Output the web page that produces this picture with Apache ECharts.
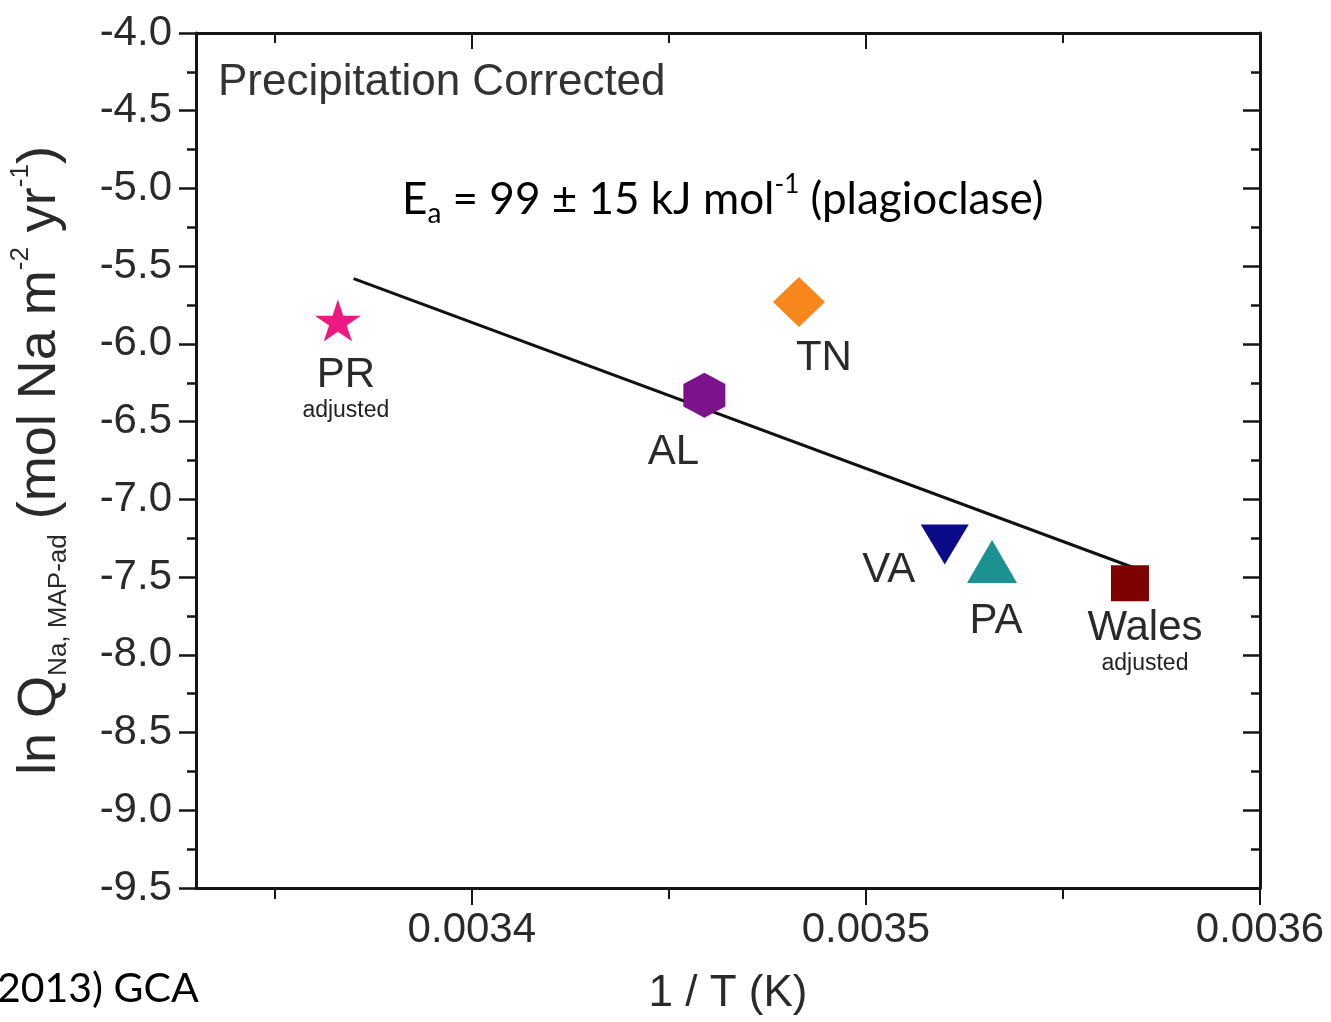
<!DOCTYPE html>
<html>
<head>
<meta charset="utf-8">
<script src="https://cdn.jsdelivr.net/npm/echarts@6/dist/echarts.min.js"></script>
<style>
  html, body { margin: 0; padding: 0; background: #fff; }
  #chart { width: 1331px; height: 1022px; }
</style>
</head>
<body>
<div id="chart"></div>
<script>
// sites
var sites = ['PR', 'AL', 'TN', 'VA', 'PA', 'Wales']
var invT = [0.003366, 0.003459, 0.003483, 0.003520, 0.003532, 0.003567]
var lnQ = [-5.85, -6.33, -5.73, -7.29, -7.40, -7.54]
var notes = ['adjusted', '', '', '', '', 'adjusted']

// fitted line end points
var fitX = [0.00337, 0.003568]
var fitY = [-5.58, -7.44]

var xMajor = [0.0034, 0.0035, 0.0036]
var xMinor = [0.00335, 0.00345, 0.00355]

// marker look per site
var look = {
    PR:    { sym: 'path://M0,-1 L0.2245,-0.309 L0.951,-0.309 L0.363,0.118 L0.588,0.809 L0,0.382 L-0.588,0.809 L-0.363,0.118 L-0.951,-0.309 L-0.2245,-0.309 Z', size: [46, 42], color: '#ec1a80', rot: 0, off: [8, 68] },
    AL:    { sym: 'path://M0,-1 L0.866,-0.5 L0.866,0.5 L0,1 L-0.866,0.5 L-0.866,-0.5 Z', size: [42, 45], color: '#7c128c', rot: 0, off: [-31, 57] },
    TN:    { sym: 'diamond', size: [52, 50], color: '#f7871c', rot: 0, off: [25, 56] },
    VA:    { sym: 'triangle', size: [48, 40], color: '#0b0b8a', rot: 180, off: [-56, 26] },
    PA:    { sym: 'triangle', size: [50, 43], color: '#1b9191', rot: 0, off: [4, 60] },
    Wales: { sym: 'rect', size: [38, 36], color: '#7d0202', rot: 0, off: [15, 58] }
}

var txt = '#2a2a2a'
var axisCol = '#151515'
var XMIN = 0.00333, XMAX = 0.0036

var series = sites.map(function (name, i) {
    var lk = look[name]
    return {
        name: name,
        type: 'scatter',
        data: [[invT[i], lnQ[i]]],
        symbol: lk.sym,
        symbolSize: lk.size,
        symbolRotate: lk.rot,
        itemStyle: { color: lk.color, opacity: 1 },
        z: 3,
        label: {
            show: true,
            position: 'inside',
            offset: lk.off,
            formatter: notes[i] ? '{n|' + name + '}\n{s|' + notes[i] + '}' : '{n|' + name + '}',
            rich: {
                n: { fontFamily: 'Liberation Sans', fontSize: 42, color: txt, lineHeight: 44, align: 'center' },
                s: { fontFamily: 'Liberation Sans', fontSize: 23, color: '#222', lineHeight: 26, align: 'center' }
            }
        }
    }
})

series.unshift({
    type: 'line',
    data: fitX.map(function (x, i) { return [x, fitY[i]] }),
    symbol: 'none',
    lineStyle: { color: '#111', width: 3 },
    z: 2
})

// extra x axis that only draws ticks (no line, no labels)
function tickAxis(pos, vals, len, inside) {
    return {
        type: 'value', position: pos, min: XMIN, max: XMAX,
        axisLine: { show: false, onZero: false },
        axisTick: { show: true, inside: inside, length: len, customValues: vals, lineStyle: { color: axisCol, width: 2 } },
        axisLabel: { show: false },
        splitLine: { show: false }
    }
}

var chart = echarts.init(document.getElementById('chart'), null, { renderer: 'canvas' })

chart.setOption({
    animation: false,
    grid: { left: 196, top: 33, right: 71, bottom: 134 },
    title: {
        text: 'Precipitation Corrected',
        left: 213, top: 56,
        textStyle: { fontFamily: 'Liberation Sans', fontSize: 44, fontWeight: 'normal', color: '#333' }
    },
    graphic: [
        {
            type: 'text', left: 402, top: 172,
            style: {
                text: '{m|E}{b|a}{m| = 99 ± 15 kJ mol}{p|-1}{m| (plagioclase)}',
                rich: {
                    m: { fontFamily: 'Lato', fontSize: 44, fill: '#000', lineHeight: 56, verticalAlign: 'middle' },
                    b: { fontFamily: 'Lato', fontSize: 28, fill: '#000', lineHeight: 56, verticalAlign: 'bottom' },
                    p: { fontFamily: 'Lato', fontSize: 26, fill: '#000', lineHeight: 56, verticalAlign: 'top' }
                }
            }
        },
        {
            type: 'text', left: -3, top: 968,
            style: { text: '2013) GCA', fontFamily: 'Lato', fontSize: 41, fill: '#000' }
        }
    ],
    xAxis: [
        {
            type: 'value', min: XMIN, max: XMAX,
            name: '1 / T (K)', nameLocation: 'middle', nameGap: 84,
            nameTextStyle: { fontFamily: 'Liberation Sans', fontSize: 44, color: txt },
            axisLine: { show: true, onZero: false, lineStyle: { color: axisCol, width: 3 } },
            axisTick: { show: true, inside: false, length: 17, customValues: xMajor, lineStyle: { color: axisCol, width: 2 } },
            axisLabel: { customValues: xMajor, fontFamily: 'Liberation Sans', fontSize: 42, color: txt, margin: 21,
                formatter: function (v) { return v.toFixed(4) } },
            splitLine: { show: false }
        },
        {
            type: 'value', position: 'top', min: XMIN, max: XMAX,
            axisLine: { show: true, onZero: false, lineStyle: { color: axisCol, width: 3 } },
            axisTick: { show: true, inside: true, length: 16, customValues: xMajor, lineStyle: { color: axisCol, width: 2 } },
            axisLabel: { show: false },
            splitLine: { show: false }
        },
        tickAxis('bottom', xMinor, 11, false),
        tickAxis('top', xMinor, 10, true)
    ],
    yAxis: [
        {
            type: 'value', min: -9.5, max: -4.0, interval: 0.5,
            name: '{m|ln Q}{b|Na, MAP-ad}{m| (mol Na m}{p|-2}{m| yr}{p|-1}{m|)}',
            nameLocation: 'middle', nameGap: 124, nameRotate: 90,
            nameTextStyle: {
                rich: {
                    m: { fontFamily: 'Liberation Sans', fontSize: 54, color: txt, lineHeight: 64, verticalAlign: 'middle' },
                    b: { fontFamily: 'Liberation Sans', fontSize: 26, color: txt, lineHeight: 64, verticalAlign: 'bottom' },
                    p: { fontFamily: 'Liberation Sans', fontSize: 26, color: txt, lineHeight: 64, verticalAlign: 'top' }
                }
            },
            axisLine: { show: true, onZero: false, lineStyle: { color: axisCol, width: 3 } },
            axisTick: { show: true, inside: false, length: 17, lineStyle: { color: axisCol, width: 2.5 } },
            minorTick: { show: true, splitNumber: 2, length: 9, lineStyle: { color: axisCol, width: 2.5 } },
            axisLabel: { fontFamily: 'Liberation Sans', fontSize: 42, color: txt, margin: 24,
                formatter: function (v) { return v.toFixed(1) } },
            splitLine: { show: false }
        },
        {
            type: 'value', position: 'right', min: -9.5, max: -4.0, interval: 0.5,
            axisLine: { show: true, onZero: false, lineStyle: { color: axisCol, width: 3 } },
            axisTick: { show: true, inside: true, length: 17, lineStyle: { color: axisCol, width: 2.5 } },
            minorTick: { show: true, splitNumber: 2, length: 9, lineStyle: { color: axisCol, width: 2.5 } },
            axisLabel: { show: false },
            splitLine: { show: false }
        }
    ],
    series: series
})
</script>
</body>
</html>
